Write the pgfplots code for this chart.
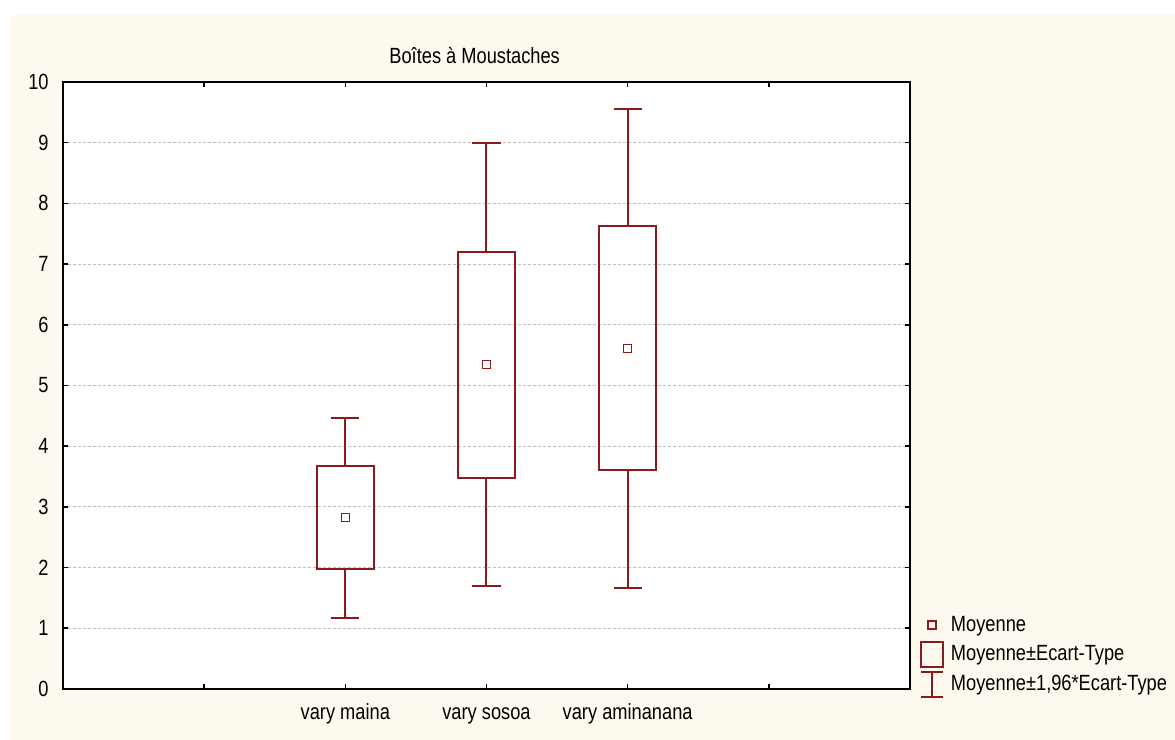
\documentclass[border=0pt]{standalone}
\usepackage{fontspec}
\setmainfont{Liberation Sans}[FakeStretch=0.83]
\usepackage{pgfplots}
\pgfplotsset{compat=1.18}
\usepgfplotslibrary{statistics}

\definecolor{boxred}{RGB}{139,26,26}
\definecolor{cream}{RGB}{254,249,238}
\definecolor{gridgray}{RGB}{190,190,190}

\begin{document}
\begin{tikzpicture}
\useasboundingbox (0pt,0pt) rectangle (587.5pt,370pt);
\fill[white] (0pt,0pt) rectangle (587.5pt,370pt);
\fill[cream] (5pt,0pt) rectangle (587.5pt,362.5pt);
\begin{axis}[
  at={(31.5pt,25.5pt)}, anchor=south west,
  scale only axis, width=423.5pt, height=303.5pt,
  font=\fontsize{11}{13}\selectfont,
  /pgf/number format/assume math mode=true,
  axis background/.style={fill=white},
  xmin=0, xmax=6, ymin=0, ymax=10,
  xtick={1,2,3,4,5},
  xticklabels={,vary maina,vary sosoa,vary aminanana,},
  ytick={0,1,...,10},
  tick align=inside,
  major tick length=2.5pt,
  axis line style={line width=1pt},
  every tick/.style={black, line width=0.8pt},
  ymajorgrids,
  grid style={gridgray, line width=0.5pt, dash pattern=on 1.5pt off 1pt},
  yticklabel style={anchor=east, inner sep=0pt, xshift=-7pt},
  xticklabel style={anchor=north, inner sep=0pt, yshift=-7pt,
    text height=8pt, text depth=2.5pt},
  title={Boîtes à Moustaches},
  every axis title/.style={at={(0.486,1)}, anchor=base, yshift=9pt, inner sep=0pt},
  legend style={at={(1.0118,0.1285)}, anchor=north west, draw=none, fill=none,
    inner sep=0pt, outer sep=0pt, row sep=0.75pt, column sep=3.5pt,
    nodes={inner sep=0pt}, font=\fontsize{11}{13}\selectfont},
  legend cell align=left,
  boxplot/draw direction=y,
  boxplot/draw/median/.code={},
  boxplot/box extend=0.4,
  boxplot/whisker extend=0.2,
]
% means
\addplot[forget plot, boxred, only marks, mark=square, mark size=2pt,
  mark options={solid, draw=boxred, line width=0.6pt, fill=white}]
  coordinates {(2,2.82) (3,5.34) (4,5.61)};
% mean +/- SD box, mean +/- 1.96 SD whiskers
\addplot[forget plot, draw=boxred, line width=1pt, mark=none,
  boxplot prepared={draw position=2, lower whisker=1.17, lower quartile=1.98,
    median=2.82, upper quartile=3.67, upper whisker=4.47}] coordinates {};
\addplot[forget plot, draw=boxred, line width=1pt, mark=none,
  boxplot prepared={draw position=3, lower whisker=1.69, lower quartile=3.48,
    median=5.34, upper quartile=7.20, upper whisker=8.99}] coordinates {};
\addplot[forget plot, draw=boxred, line width=1pt, mark=none,
  boxplot prepared={draw position=4, lower whisker=1.67, lower quartile=3.60,
    median=5.61, upper quartile=7.62, upper whisker=9.55}] coordinates {};

\addlegendimage{legend image code/.code={
  \path[draw=none, fill=none] (0pt,-7pt) rectangle (11pt,7pt);
  \draw[boxred, line width=0.6pt] (3.5pt,-2pt) rectangle (7.5pt,2pt);}}
\addlegendentry{Moyenne}
\addlegendimage{legend image code/.code={
  \path[draw=none, fill=none] (0pt,-7pt) rectangle (11pt,7pt);
  \draw[boxred, line width=1pt] (0pt,-6.25pt) rectangle (11pt,6.25pt);}}
\addlegendentry{Moyenne±Ecart-Type}
\addlegendimage{legend image code/.code={
  \path[draw=none, fill=none] (0pt,-7pt) rectangle (11pt,7pt);
  \draw[boxred, line width=1pt] (0pt,-6.25pt) -- (11pt,-6.25pt)
    (5.5pt,-6.25pt) -- (5.5pt,6.25pt) (0pt,6.25pt) -- (11pt,6.25pt);}}
\addlegendentry{Moyenne±1,96*Ecart-Type}
\end{axis}
\end{tikzpicture}
\end{document}
